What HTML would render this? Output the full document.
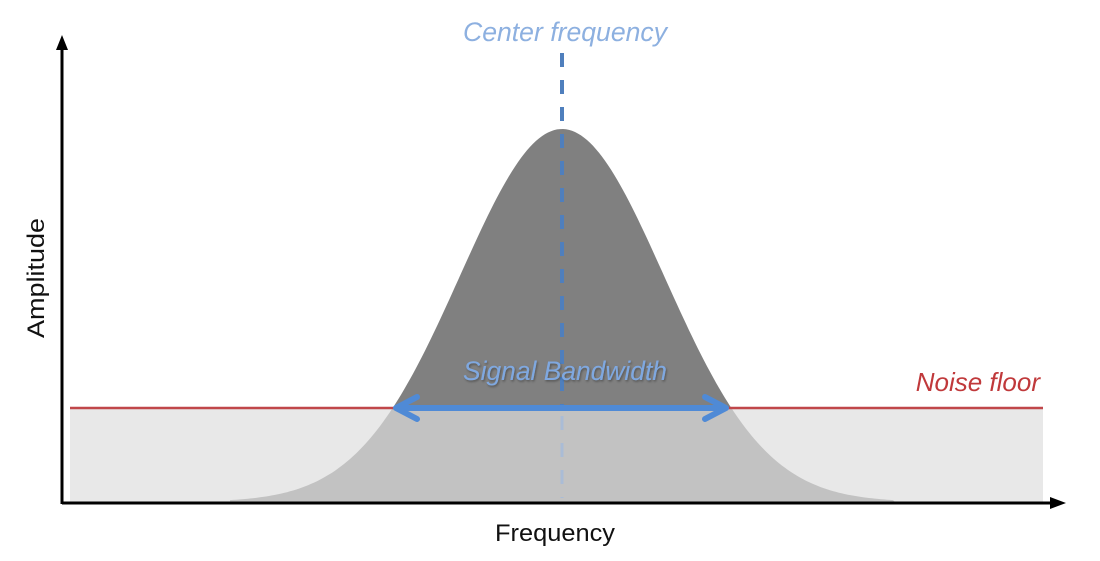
<!DOCTYPE html>
<html><head><meta charset="utf-8"><style>
html,body{margin:0;padding:0;background:#fff;width:1100px;height:561px;overflow:hidden}
text{font-family:"Liberation Sans",sans-serif}
</style></head><body>
<svg id="s" width="1100" height="561" viewBox="0 0 1100 561" xmlns="http://www.w3.org/2000/svg">
<defs>
<clipPath id="top"><rect x="0" y="0" width="1100" height="408"/></clipPath>
<clipPath id="bot"><rect x="0" y="408" width="1100" height="200"/></clipPath>
<filter id="sh" x="-10%" y="-30%" width="120%" height="160%"><feDropShadow dx="1" dy="1.5" stdDeviation="1" flood-color="#000" flood-opacity="0.35"/></filter>
</defs>
<rect x="70" y="408" width="973" height="95" fill="#e8e8e8"/>
<path id="g1" clip-path="url(#top)" fill="#808080" d=""/>
<path id="g2" clip-path="url(#bot)" fill="#c2c2c2" d=""/>
<line x1="70" y1="408" x2="1043" y2="408" stroke="#c0474a" stroke-width="2.5"/>
<line x1="562" y1="53" x2="562" y2="408" stroke="#4f7fbd" stroke-width="4" stroke-dasharray="14 13"/>
<line x1="562" y1="416" x2="562" y2="498" stroke="#aabcd6" stroke-width="3" stroke-dasharray="14 13"/>
<line x1="398" y1="408" x2="724" y2="408" stroke="#4f8ad6" stroke-width="6"/>
<polyline points="417,397 396,408 417,419" fill="none" stroke="#4f8ad6" stroke-width="6" stroke-linecap="round" stroke-linejoin="round"/>
<polyline points="705,397 726,408 705,419" fill="none" stroke="#4f8ad6" stroke-width="6" stroke-linecap="round" stroke-linejoin="round"/>
<line x1="62" y1="503" x2="1055" y2="503" stroke="#000" stroke-width="3"/>
<polygon points="1066,503 1050,497 1050,509" fill="#000"/>
<line x1="62" y1="45" x2="62" y2="504" stroke="#000" stroke-width="3"/>
<polygon points="62,35 56,50 68,50" fill="#000"/>
<text x="565" y="41" text-anchor="middle" font-size="27" font-style="italic" fill="#8db0e0" textLength="204" lengthAdjust="spacingAndGlyphs">Center frequency</text>
<text x="565" y="380" text-anchor="middle" font-size="27" font-style="italic" fill="#7fa8e0" filter="url(#sh)" textLength="204" lengthAdjust="spacingAndGlyphs">Signal Bandwidth</text>
<text x="1040" y="391" text-anchor="end" font-size="26" font-style="italic" fill="#c0393b">Noise floor</text>
<text x="555" y="541" text-anchor="middle" font-size="24" fill="#111" textLength="120" lengthAdjust="spacingAndGlyphs">Frequency</text>
<text transform="translate(44,278) rotate(-90)" text-anchor="middle" font-size="24" fill="#111" textLength="120" lengthAdjust="spacingAndGlyphs">Amplitude</text>
</svg>
<script>
var c=562,b=502,h=373,s=102,d="M230,"+b;
for(var x=230;x<=895;x+=3){var y=b-h*Math.exp(-(x-c)*(x-c)/(2*s*s));d+=" L"+x+","+y.toFixed(1);}
d+=" L895,"+b+" Z";
document.getElementById("g1").setAttribute("d",d);
document.getElementById("g2").setAttribute("d",d);
</script>
</body></html>
